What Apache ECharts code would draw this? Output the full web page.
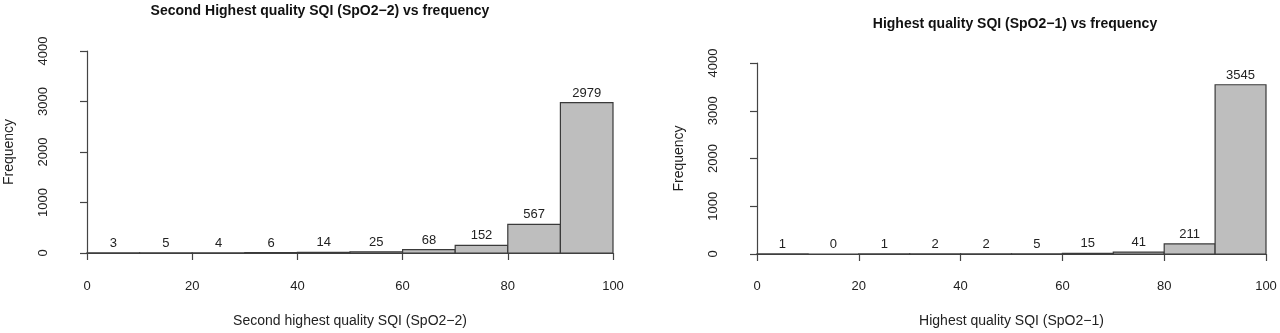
<!DOCTYPE html>
<html lang="en">
<head>
    <meta charset="UTF-8">
    <title>SQI histograms</title>
    <script src="https://cdn.jsdelivr.net/npm/echarts@6/dist/echarts.min.js"></script>
    <style>
        html, body { margin: 0; padding: 0; background: #fff; }
        #chart { width: 1280px; height: 333px; }
    </style>
</head>
<body>
<div id="chart"></div>
<script type="text/javascript">
    // bin edges shared by both histograms
    var binEdges = [0, 10, 20, 30, 40, 50, 60, 70, 80, 90, 100];
    var spo2SecondCounts = [3, 5, 4, 6, 14, 25, 68, 152, 567, 2979];
    var spo2FirstCounts = [1, 0, 1, 2, 2, 5, 15, 41, 211, 3545];
    var xTicks = [0, 20, 40, 60, 80, 100];
    var yTicks = [0, 1000, 2000, 3000, 4000];

    var font = 'Liberation Sans, Arial, sans-serif';

    function toBins(counts) {
        var out = [];
        for (var i = 0; i < counts.length; i++) {
            out.push([binEdges[i], binEdges[i + 1], counts[i]]);
        }
        return out;
    }

    function renderHist(params, api) {
        var top = api.coord([api.value(0), api.value(2)]);
        var base = api.coord([api.value(1), 0]);
        return {
            type: 'group',
            children: [{
                type: 'rect',
                shape: {x: top[0], y: top[1], width: base[0] - top[0], height: base[1] - top[1]},
                style: {fill: '#bebebe', stroke: '#3a3a3a', lineWidth: 1.2}
            }, {
                type: 'text',
                style: {
                    text: String(api.value(2)),
                    x: (top[0] + base[0]) / 2,
                    y: top[1] - 3,
                    align: 'center',
                    verticalAlign: 'bottom',
                    fill: '#222',
                    font: '13px ' + font
                }
            }]
        };
    }

    function xAxisFor(idx, name, offset) {
        return {
            gridIndex: idx, type: 'value', min: xTicks[0], max: xTicks[xTicks.length - 1], interval: 20,
            offset: offset, splitLine: {show: false},
            axisLine: {lineStyle: {color: '#444', width: 1.2}},
            axisTick: {length: 7, lineStyle: {color: '#444', width: 1.2}},
            axisLabel: {color: '#222', fontSize: 13, fontFamily: font, margin: 18},
            name: name, nameLocation: 'middle', nameGap: 52,
            nameTextStyle: {color: '#222', fontSize: 14, fontFamily: font}
        };
    }

    function yAxisFor(idx, offset) {
        return {
            gridIndex: idx, type: 'value', min: yTicks[0], max: yTicks[yTicks.length - 1], interval: 1000,
            offset: offset, splitLine: {show: false},
            axisLine: {show: true, lineStyle: {color: '#444', width: 1.2}},
            axisTick: {show: true, length: 7, lineStyle: {color: '#444', width: 1.2}},
            axisLabel: {color: '#222', fontSize: 13, fontFamily: font, rotate: 90, margin: 16,
                formatter: function (v) { return String(v); }},
            name: 'Frequency', nameLocation: 'middle', nameGap: 50,
            nameTextStyle: {color: '#222', fontSize: 14, fontFamily: font}
        };
    }

    var myChart = echarts.init(document.getElementById('chart'), null, {renderer: 'canvas'});
    var option = {
        animation: false,
        graphic: [{
            type: 'text', x: 320, y: 11,
            style: {text: 'Second Highest quality SQI (SpO2\u22122) vs frequency', align: 'center', verticalAlign: 'middle',
                fill: '#111', font: 'bold 14px ' + font}
        }, {
            type: 'text', x: 1015, y: 24,
            style: {text: 'Highest quality SQI (SpO2\u22121) vs frequency', align: 'center', verticalAlign: 'middle',
                fill: '#111', font: 'bold 14px ' + font}
        }],
        grid: [
            {left: 87, top: 51, width: 526, height: 202},
            {left: 757, top: 63, width: 509, height: 194}
        ],
        xAxis: [
            xAxisFor(0, 'Second highest quality SQI (SpO2\u22122)', 9),
            xAxisFor(1, 'Highest quality SQI (SpO2\u22121)', 8)
        ],
        yAxis: [yAxisFor(0, 21), yAxisFor(1, 21)],
        series: [{
            type: 'custom', xAxisIndex: 0, yAxisIndex: 0,
            renderItem: renderHist, data: toBins(spo2SecondCounts)
        }, {
            type: 'custom', xAxisIndex: 1, yAxisIndex: 1,
            renderItem: renderHist, data: toBins(spo2FirstCounts)
        }]
    };
    myChart.setOption(option);
</script>
</body>
</html>
